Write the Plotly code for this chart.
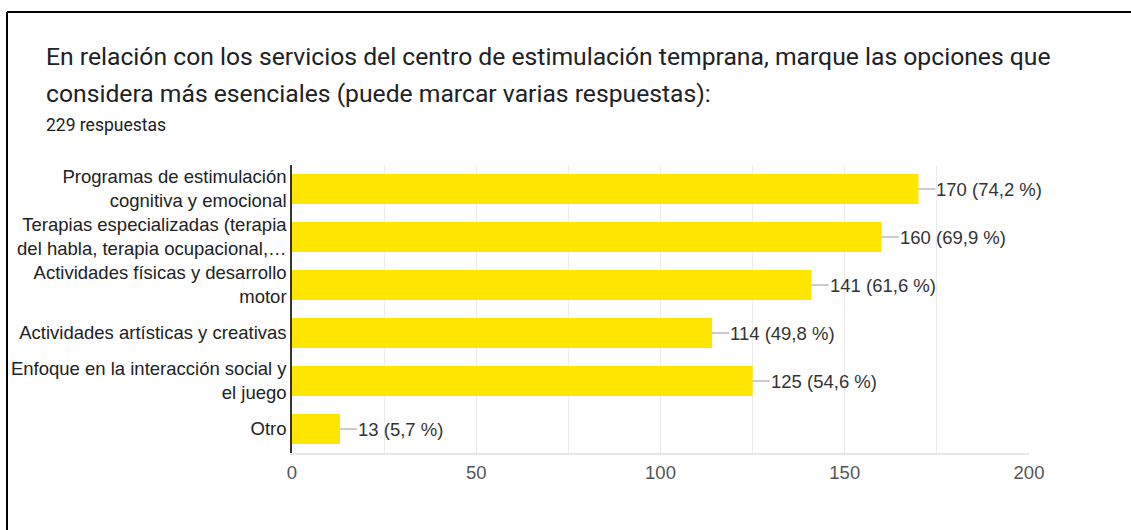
import plotly.graph_objects as go

categories = [
    "Programas de estimulación<br>cognitiva y emocional",
    "Terapias especializadas (terapia<br>del habla, terapia ocupacional,…",
    "Actividades físicas y desarrollo<br>motor",
    "Actividades artísticas y creativas",
    "Enfoque en la interacción social y<br>el juego",
    "Otro",
]
counts = [170, 160, 141, 114, 125, 13]
percents = ["74,2", "69,9", "61,6", "49,8", "54,6", "5,7"]
total_responses = 229
x_ticks = [0, 50, 100, 150, 200]

W, H = 1131, 530
ML, MR, MT, MB = 292, 102, 165, 77
PW = W - ML - MR
PH = H - MT - MB

fig = go.Figure()
fig.add_trace(go.Bar(
    y=categories, x=counts, orientation="h",
    marker=dict(color="#FFE600", line=dict(width=0)),
    hoverinfo="skip",
))

for c, v, p in zip(categories, counts, percents):
    fig.add_annotation(
        x=v, y=c, xref="x", yref="y",
        text=f"{v} ({p} %)",
        showarrow=True, arrowhead=0, arrowwidth=1, arrowcolor="#9a9a9a",
        ax=17, ay=0, xanchor="left", standoff=0, startstandoff=0,
        borderpad=0,
        font=dict(family="Liberation Sans, Arial", size=18.5, color="#333333"),
    )

def px_x(px):
    return (px - ML) / PW

def px_y(py):
    return 1 - (py - MT) / PH

title_font = dict(family="Roboto", size=24.7, color="#202124")
fig.add_annotation(xref="paper", yref="paper", x=px_x(44), y=px_y(73),
                   xanchor="left", yanchor="bottom", showarrow=False,
                   text="En relación con los servicios del centro de estimulación temprana, marque las opciones que",
                   font=title_font)
fig.add_annotation(xref="paper", yref="paper", x=px_x(44), y=px_y(110),
                   xanchor="left", yanchor="bottom", showarrow=False,
                   text="considera más esenciales (puede marcar varias respuestas):",
                   font=title_font)
fig.add_annotation(xref="paper", yref="paper", x=px_x(44), y=px_y(137),
                   xanchor="left", yanchor="bottom", showarrow=False,
                   text=f"{total_responses} respuestas",
                   font=dict(family="Roboto", size=17.5, color="#202124"))

# frame lines (top and left)
fig.add_shape(type="line", xref="paper", yref="paper",
              x0=px_x(7), x1=px_x(W + 5), y0=px_y(12), y1=px_y(12),
              line=dict(color="#000000", width=2))
fig.add_shape(type="line", xref="paper", yref="paper",
              x0=px_x(7), x1=px_x(7), y0=px_y(12), y1=px_y(H + 5),
              line=dict(color="#000000", width=2))

fig.update_layout(
    width=W, height=H,
    margin=dict(l=ML, r=MR, t=MT, b=MB, autoexpand=False),
    paper_bgcolor="white", plot_bgcolor="white",
    showlegend=False, bargap=0.37,
    xaxis=dict(
        range=[0, 200], tickvals=x_ticks, showgrid=True, gridcolor="#ebebeb",
        minor=dict(dtick=25, showgrid=True, gridcolor="#ebebeb"),
        zeroline=False, showline=True, linecolor="#e6e6e6", linewidth=2,
        ticks="", ticklabelstandoff=2,
        tickfont=dict(family="Liberation Sans, Arial", size=18.5, color="#555555"),
    ),
    yaxis=dict(
        autorange="reversed", showgrid=False, zeroline=False,
        showline=True, linecolor="#333333", linewidth=1.5,
        ticks="", ticklabelstandoff=0,
        tickfont=dict(family="Liberation Sans, Arial", size=18.5, color="#222222"),
    ),
)
fig.write_html("out.html", config={"displayModeBar": False},
               post_script="document.body.style.margin='0px';document.body.style.overflow='hidden';")
